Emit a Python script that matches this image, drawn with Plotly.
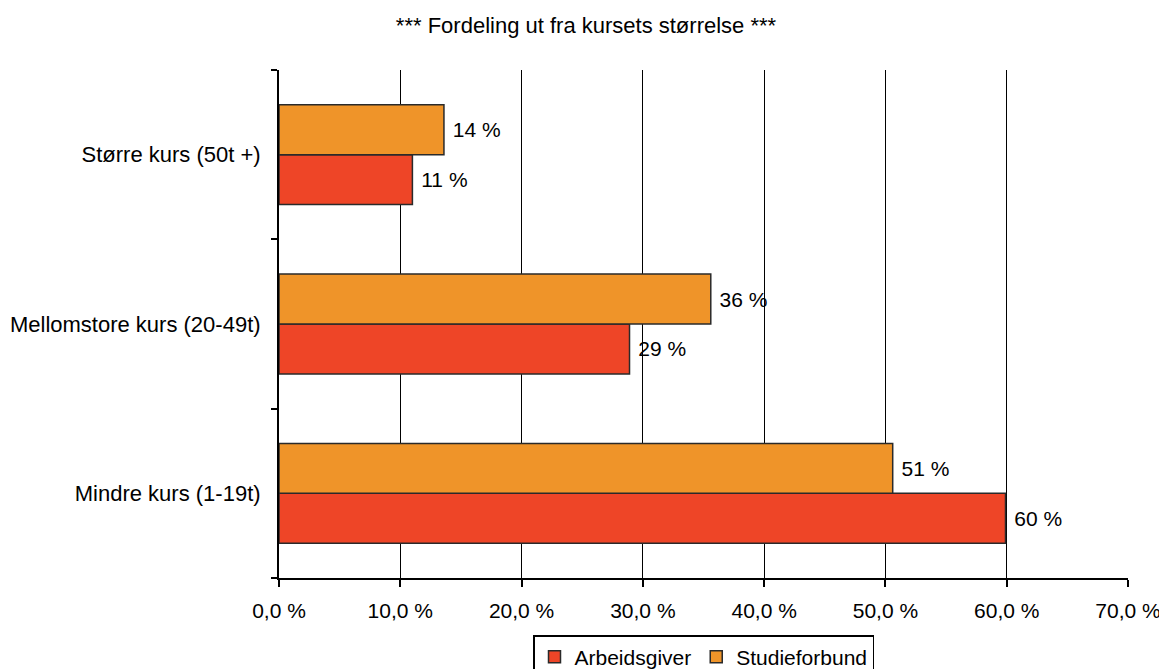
import plotly.graph_objects as go

categories = ["Mindre kurs (1-19t)", "Mellomstore kurs (20-49t)", "Større kurs (50t +)"]
arbeidsgiver = [59.9, 28.9, 11.0]
studieforbund = [50.6, 35.6, 13.6]
tick_vals = [0, 10, 20, 30, 40, 50, 60, 70]
tick_text = ["0,0 %", "10,0 %", "20,0 %", "30,0 %", "40,0 %", "50,0 %", "60,0 %", "70,0 %"]
title = "*** Fordeling ut fra kursets størrelse ***"

FONT = "Liberation Sans, Arial, sans-serif"
FS = 21

fig = go.Figure()
fig.add_trace(go.Bar(
    y=categories, x=arbeidsgiver, orientation="h", name="Arbeidsgiver",
    marker=dict(color="#EE4527", line=dict(color="#2a2a2a", width=1.5)),
    text=[f"\u00a0{round(v)} %" for v in arbeidsgiver], textposition="outside",
    textfont=dict(size=FS, color="black", family=FONT), cliponaxis=False,
))
fig.add_trace(go.Bar(
    y=categories, x=studieforbund, orientation="h", name="Studieforbund",
    marker=dict(color="#EF9429", line=dict(color="#2a2a2a", width=1.5)),
    text=[f"\u00a0{round(v)} %" for v in studieforbund], textposition="outside",
    textfont=dict(size=FS, color="black", family=FONT), cliponaxis=False,
))

fig.update_layout(
    width=1159, height=661,
    margin=dict(l=271, r=39, t=62, b=91, autoexpand=False),
    paper_bgcolor="white", plot_bgcolor="white",
    barmode="group", bargap=0.41, bargroupgap=0,
    font=dict(family=FONT, size=FS, color="black"),
    title=dict(text=title, x=0.4987, xanchor="center", y=0.974, yanchor="middle",
               font=dict(size=22, family=FONT, color="black")),
    showlegend=True,
    legend=dict(orientation="h", x=0.5, xanchor="center",
                yref="container", y=0.0514, yanchor="top",
                bordercolor="black", borderwidth=1.5, bgcolor="white",
                font=dict(size=FS, family=FONT, color="black"), traceorder="normal",
                itemwidth=30),
    xaxis=dict(range=[0, 70], tickvals=tick_vals, ticktext=tick_text,
               showgrid=True, gridcolor="black", gridwidth=1,
               showline=True, linecolor="black", linewidth=2,
               ticks="outside", ticklen=7, tickcolor="black", tickwidth=1.5,
               zeroline=False, ticklabelstandoff=6, automargin=False,
               tickfont=dict(size=FS, family=FONT, color="black")),
    yaxis=dict(type="category", categoryorder="array", categoryarray=categories,
               showline=True, linecolor="black", linewidth=2,
               ticks="outside", ticklen=6, tickcolor="black", tickwidth=1.5,
               tickson="boundaries", showgrid=False, ticklabelstandoff=12,
               automargin=False,
               tickfont=dict(size=22, family=FONT, color="black")),
)

fig.write_html("out.html")
